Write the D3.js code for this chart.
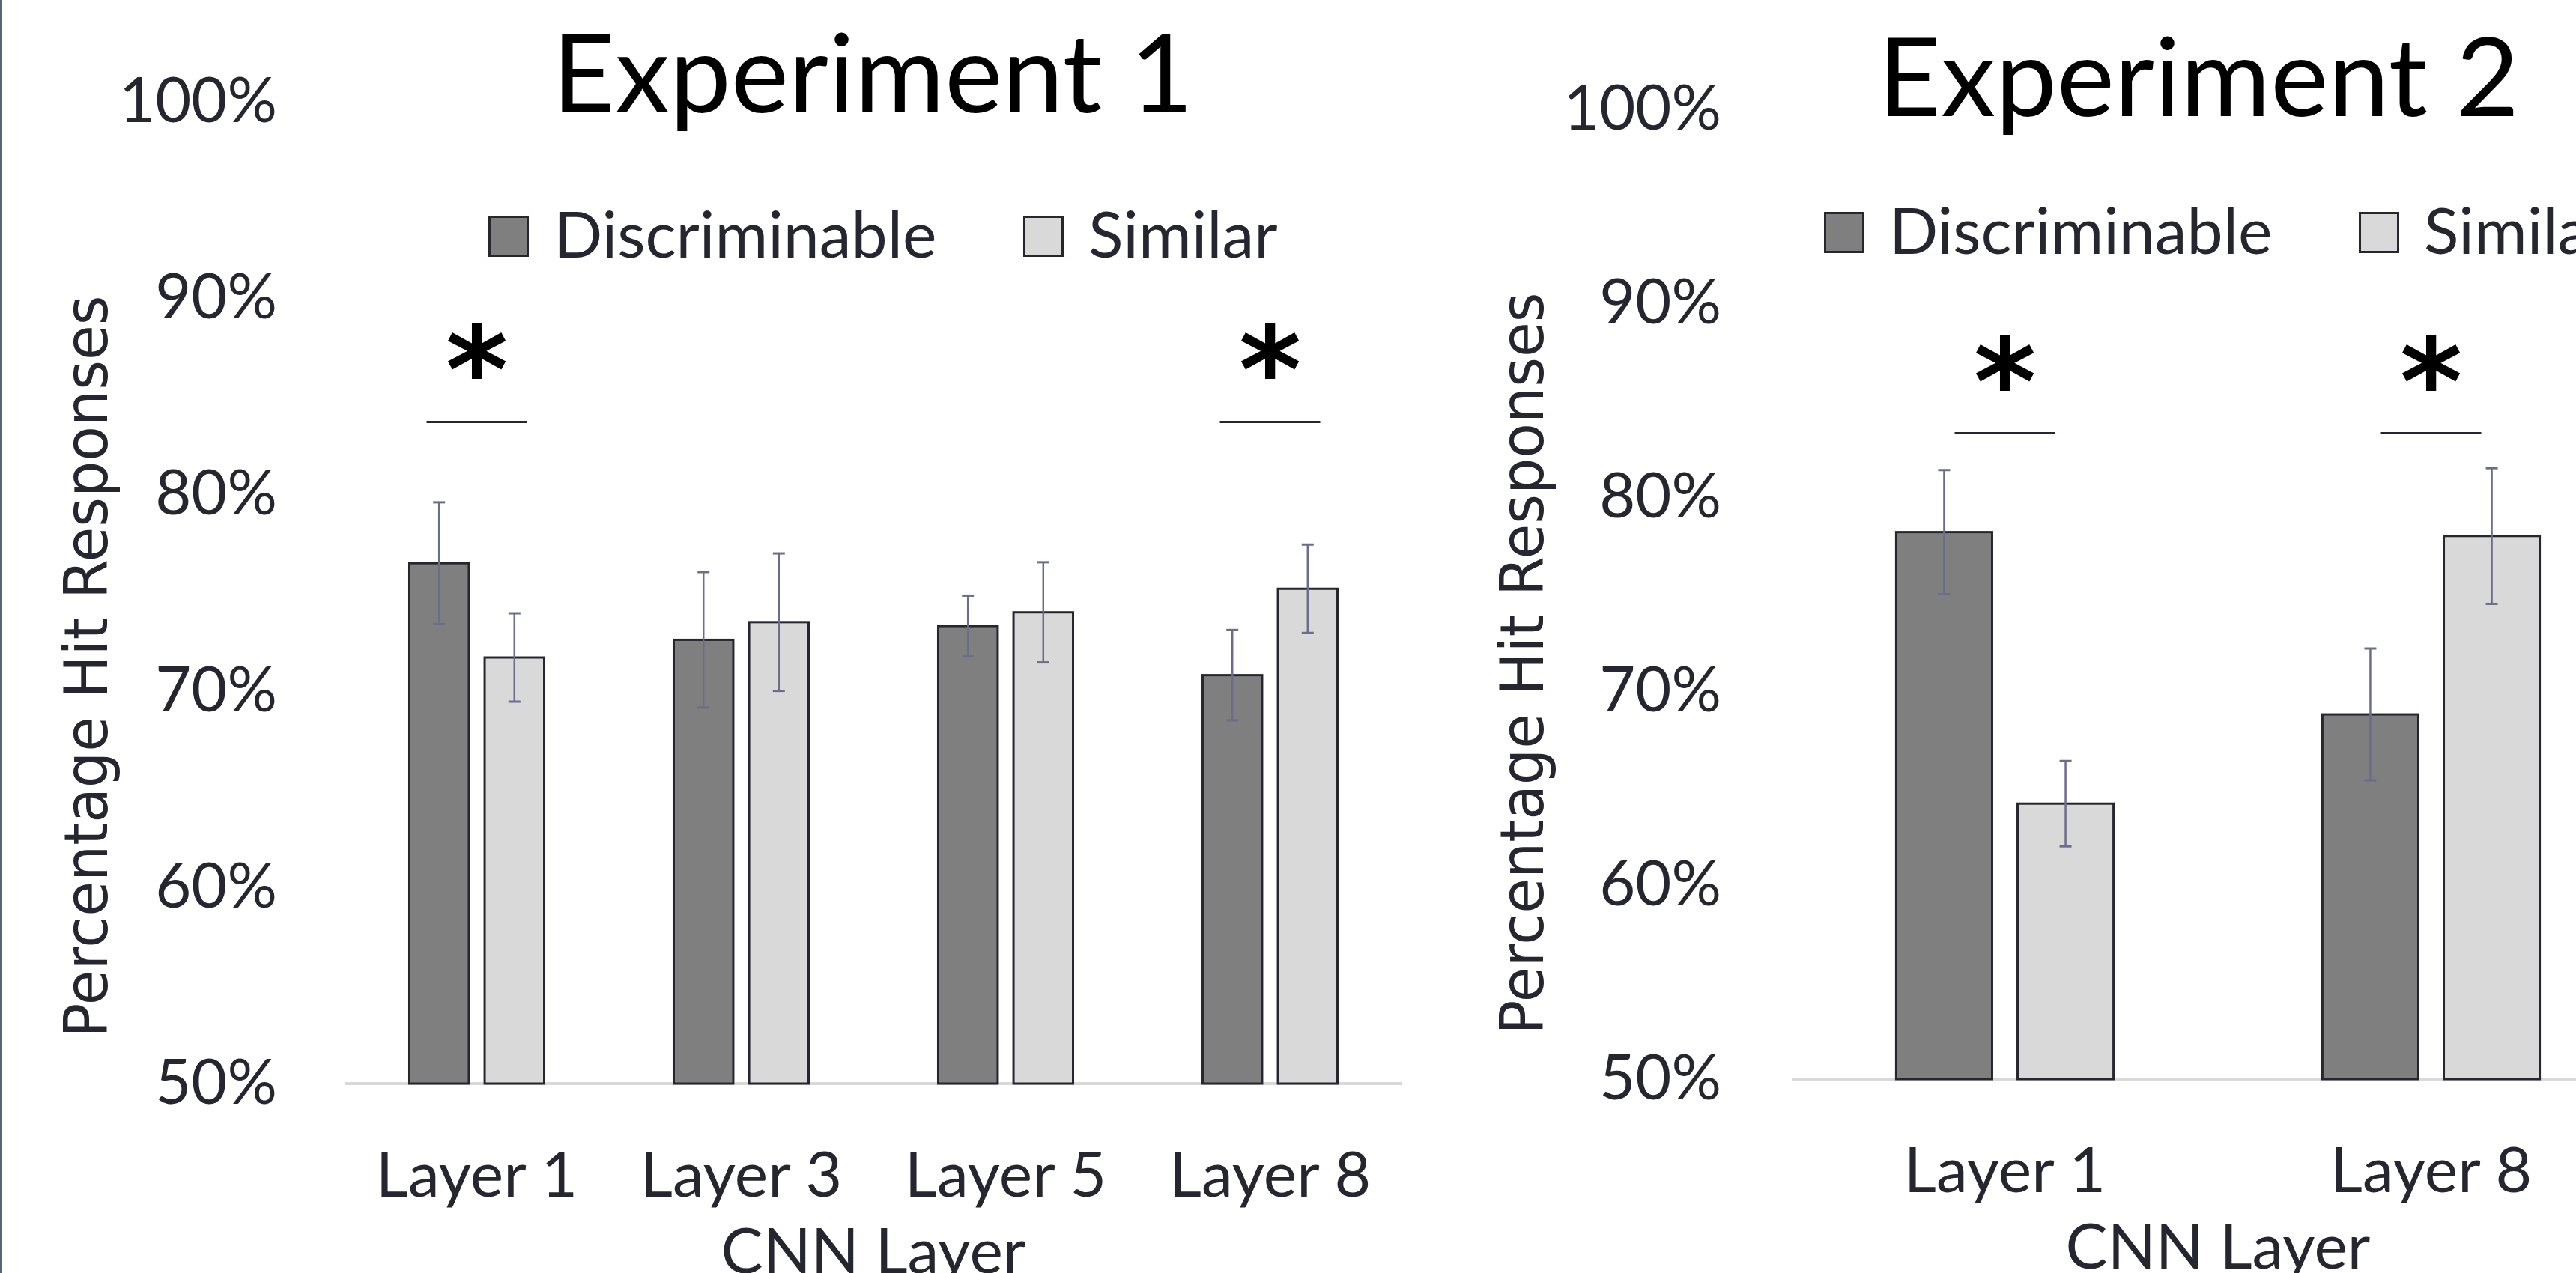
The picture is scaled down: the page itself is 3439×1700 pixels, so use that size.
<!DOCTYPE html>
<html lang="en">
  <head>
    <meta charset="utf-8" />
    <title>Hit responses by CNN layer</title>
    <script src="https://d3js.org/d3.v7.min.js"></script>
    <style>
      body { margin: 0; background: #ffffff; }
      svg { display: block; }
    </style>
  </head>
  <body>
    <div id="chart"></div>
    <script>
      // values, in percent
      var seriesNames = ["Discriminable", "Similar"];
      var yTicks = [50, 60, 70, 80, 90, 100];

      var exp1Layers = ["Layer 1", "Layer 3", "Layer 5", "Layer 8"];
      var exp1Discriminable = [76.5, 72.6, 73.3, 70.8];
      var exp1DiscriminableErr = [3.1, 3.45, 1.55, 2.3];
      var exp1Similar = [71.7, 73.5, 74.0, 75.2];
      var exp1SimilarErr = [2.25, 3.5, 2.55, 2.25];
      var exp1Significant = ["Layer 1", "Layer 8"];

      var exp2Layers = ["Layer 1", "Layer 8"];
      var exp2Discriminable = [78.2, 68.8];
      var exp2DiscriminableErr = [3.2, 3.4];
      var exp2Similar = [64.2, 78.0];
      var exp2SimilarErr = [2.2, 3.5];
      var exp2Significant = ["Layer 1", "Layer 8"];

      var width = 3439;
      var height = 1700;
      var textFont = "Lato, 'Open Sans', sans-serif";
      var textColor = "#262630";
      var fills = { Discriminable: "#7f7f7f", Similar: "#d9d9d9" };

      var svg = d3
        .select("#chart")
        .append("svg")
        .attr("width", width)
        .attr("height", height);

      // thin frame line on the left edge
      svg
        .append("rect")
        .attr("x", 0)
        .attr("y", 0)
        .attr("width", 3)
        .attr("height", height)
        .attr("fill", "#56657d");

      var panels = [
        {
          title: "Experiment 1",
          layers: exp1Layers,
          disc: exp1Discriminable,
          discErr: exp1DiscriminableErr,
          sim: exp1Similar,
          simErr: exp1SimilarErr,
          sig: exp1Significant,
          left: 460, right: 1872, top: 136, bottom: 1447,
          tickPad: 90, titleX: 1165, titleY: 150,
          legendX: 652, legendY: 288,
          axisTitleX: 143, axisTitleY: 890,
          sigLevel: 83.7
        },
        {
          title: "Experiment 2",
          layers: exp2Layers,
          disc: exp2Discriminable,
          discErr: exp2DiscriminableErr,
          sim: exp2Similar,
          simErr: exp2SimilarErr,
          sig: exp2Significant,
          left: 2392, right: 3530, top: 146, bottom: 1441,
          tickPad: 94, titleX: 2935, titleY: 155,
          legendX: 2435, legendY: 283,
          axisTitleX: 2060, axisTitleY: 886,
          sigLevel: 83.3
        }
      ];

      panels.forEach(drawPanel);

      function drawPanel(p) {
        var x = d3.scaleBand().domain(p.layers).range([p.left, p.right]).padding(0);
        var y = d3.scaleLinear().domain([50, 100]).range([p.bottom, p.top]);
        var span = x.bandwidth() * 0.51;
        var xs = d3
          .scaleBand()
          .domain(seriesNames)
          .range([(x.bandwidth() - span) / 2, (x.bandwidth() + span) / 2])
          .paddingInner(0.21);

        // title
        svg
          .append("text")
          .attr("x", p.titleX)
          .attr("y", p.titleY)
          .attr("text-anchor", "middle")
          .style("font-family", textFont)
          .style("font-size", "146px")
          .attr("fill", "#000")
          .text(p.title);

        // legend
        var legend = svg
          .append("g")
          .attr("transform", "translate(" + p.legendX + "," + p.legendY + ")");
        seriesNames.forEach(function (name, i) {
          var g = legend.append("g").attr("transform", "translate(" + i * 714 + ",0)");
          g.append("rect")
            .attr("x", 1.5)
            .attr("y", 1.5)
            .attr("width", 51)
            .attr("height", 52)
            .attr("fill", fills[name])
            .attr("stroke", textColor)
            .attr("stroke-width", 3);
          g.append("text")
            .attr("x", 87)
            .attr("y", 56)
            .style("font-family", textFont)
            .style("font-size", "86px")
            .attr("fill", textColor)
            .text(name);
        });

        // y axis labels
        var yAxis = svg
          .append("g")
          .attr("transform", "translate(" + p.left + ",0)")
          .call(
            d3
              .axisLeft(y)
              .tickValues(yTicks)
              .tickSize(0)
              .tickPadding(p.tickPad)
              .tickFormat(function (d) {
                return d + "%";
              })
          );
        yAxis.select(".domain").remove();
        yAxis
          .selectAll("text")
          .style("font-family", textFont)
          .style("font-size", "83px")
          .attr("fill", textColor);

        // y axis title
        svg
          .append("text")
          .attr("transform", "translate(" + p.axisTitleX + "," + p.axisTitleY + ") rotate(-90)")
          .attr("text-anchor", "middle")
          .attr("textLength", 991)
          .attr("lengthAdjust", "spacingAndGlyphs")
          .style("font-family", "'DejaVu Sans', Verdana, sans-serif")
          .style("font-size", "80px")
          .attr("fill", textColor)
          .text("Percentage Hit Responses");

        // baseline at 50%
        svg
          .append("line")
          .attr("x1", p.left)
          .attr("x2", p.right)
          .attr("y1", y(50))
          .attr("y2", y(50))
          .attr("stroke", "#d9d9d9")
          .attr("stroke-width", 4);

        // x axis labels
        var xAxis = svg
          .append("g")
          .attr("transform", "translate(0," + y(50) + ")")
          .call(d3.axisBottom(x).tickSize(0).tickPadding(91));
        xAxis.select(".domain").remove();
        xAxis
          .selectAll("text")
          .style("font-family", textFont)
          .style("font-size", "84px")
          .attr("fill", textColor);

        svg
          .append("text")
          .attr("x", (p.left + p.right) / 2)
          .attr("y", y(50) + 253)
          .attr("text-anchor", "middle")
          .style("font-family", textFont)
          .style("font-size", "84px")
          .attr("fill", textColor)
          .text("CNN Layer");

        var rows = p.layers.map(function (layer, i) {
          return {
            layer: layer,
            values: [
              { name: "Discriminable", value: p.disc[i], err: p.discErr[i] },
              { name: "Similar", value: p.sim[i], err: p.simErr[i] }
            ]
          };
        });

        var groups = svg
          .selectAll(null)
          .data(rows)
          .enter()
          .append("g")
          .attr("transform", function (d) {
            return "translate(" + x(d.layer) + ",0)";
          });

        var cells = groups
          .selectAll("g")
          .data(function (d) {
            return d.values;
          })
          .enter()
          .append("g");

        cells
          .append("rect")
          .attr("x", function (d) {
            return xs(d.name);
          })
          .attr("y", function (d) {
            return y(d.value);
          })
          .attr("width", xs.bandwidth())
          .attr("height", function (d) {
            return y(50) - y(d.value);
          })
          .attr("fill", function (d) {
            return fills[d.name];
          })
          .attr("stroke", textColor)
          .attr("stroke-width", 3);

        // error bars
        var errColor = "#6c6c8c";
        cells
          .append("line")
          .attr("x1", function (d) {
            return xs(d.name) + xs.bandwidth() / 2;
          })
          .attr("x2", function (d) {
            return xs(d.name) + xs.bandwidth() / 2;
          })
          .attr("y1", function (d) {
            return y(d.value + d.err);
          })
          .attr("y2", function (d) {
            return y(d.value - d.err);
          })
          .attr("stroke", errColor)
          .attr("stroke-width", 2.5);

        [1, -1].forEach(function (sign) {
          cells
            .append("line")
            .attr("x1", function (d) {
              return xs(d.name) + xs.bandwidth() / 2 - 8;
            })
            .attr("x2", function (d) {
              return xs(d.name) + xs.bandwidth() / 2 + 8;
            })
            .attr("y1", function (d) {
              return y(d.value + sign * d.err);
            })
            .attr("y2", function (d) {
              return y(d.value + sign * d.err);
            })
            .attr("stroke", errColor)
            .attr("stroke-width", 3);
        });

        // significance markers
        p.sig.forEach(function (layer) {
          var cx = x(layer) + x.bandwidth() / 2;
          svg
            .append("line")
            .attr("x1", cx - 67)
            .attr("x2", cx + 67)
            .attr("y1", y(p.sigLevel))
            .attr("y2", y(p.sigLevel))
            .attr("stroke", textColor)
            .attr("stroke-width", 3);
          svg
            .append("text")
            .attr("x", cx)
            .attr("y", y(p.sigLevel) - 12)
            .attr("text-anchor", "middle")
            .style("font-family", "'DejaVu Sans', sans-serif")
            .style("font-weight", "bold")
            .style("font-size", "160px")
            .attr("fill", "#000")
            .text("*");
        });
      }
    </script>
  </body>
</html>
